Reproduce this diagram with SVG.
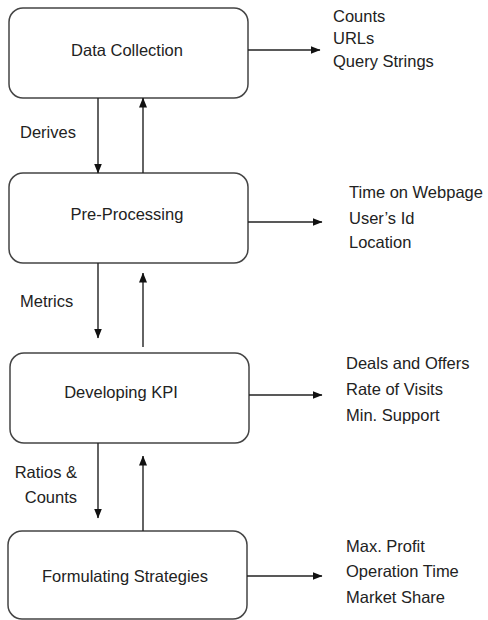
<svg xmlns="http://www.w3.org/2000/svg" width="488" height="620" viewBox="0 0 488 620">
<defs>
<marker id="ah" markerWidth="10" markerHeight="8" refX="9.5" refY="4" orient="auto" markerUnits="userSpaceOnUse">
<path d="M0,0 L10,4 L0,8 Z" fill="#111"/>
</marker>
<style>
.box{fill:#fff;stroke:#444;stroke-width:1.5}
.t{font-family:"Liberation Sans",Arial,sans-serif;font-size:16.5px;fill:#222}
.c{text-anchor:middle}
.e{text-anchor:end}
.ln{stroke:#222;stroke-width:1.4;fill:none;marker-end:url(#ah)}
</style>
</defs>
<rect width="488" height="620" fill="#fff"/>
<g id="data-collection">
<rect class="box" x="9" y="8" width="239" height="90" rx="14"/>
<text class="t c" x="127" y="56">Data Collection</text>
</g>
<g id="pre-processing">
<rect class="box" x="9" y="173" width="239" height="90" rx="14"/>
<text class="t c" x="127" y="220">Pre-Processing</text>
</g>
<g id="developing-kpi">
<rect class="box" x="10" y="353" width="239" height="90" rx="14"/>
<text class="t c" x="121" y="398">Developing KPI</text>
</g>
<g id="formulating-strategies">
<rect class="box" x="8" y="531" width="239" height="88" rx="14"/>
<text class="t c" x="125" y="582">Formulating Strategies</text>
</g>
<g id="outputs">
<text class="t" x="333" y="22">Counts</text>
<text class="t" x="333" y="44">URLs</text>
<text class="t" x="333" y="67">Query Strings</text>
<text class="t" x="349" y="198">Time on Webpage</text>
<text class="t" x="349" y="224">User’s Id</text>
<text class="t" x="349" y="248">Location</text>
<text class="t" x="346" y="369">Deals and Offers</text>
<text class="t" x="346" y="395">Rate of Visits</text>
<text class="t" x="346" y="421">Min. Support</text>
<text class="t" x="346" y="552">Max. Profit</text>
<text class="t" x="346" y="577">Operation Time</text>
<text class="t" x="346" y="603">Market Share</text>
</g>
<g id="connectors">
<line class="ln" x1="248" y1="50" x2="320" y2="50"/>
<line class="ln" x1="248" y1="222" x2="322" y2="222"/>
<line class="ln" x1="249" y1="395" x2="322" y2="395"/>
<line class="ln" x1="247" y1="576" x2="322" y2="576"/>
<line class="ln" x1="98" y1="98" x2="98" y2="173"/>
<line class="ln" x1="143" y1="173" x2="143" y2="98"/>
<line class="ln" x1="98" y1="263" x2="98" y2="338"/>
<line class="ln" x1="143" y1="347" x2="143" y2="273"/>
<line class="ln" x1="98" y1="443" x2="98" y2="518"/>
<line class="ln" x1="143" y1="531" x2="143" y2="456"/>
<text class="t" x="20" y="138">Derives</text>
<text class="t" x="20" y="307">Metrics</text>
<text class="t e" x="77" y="478">Ratios &amp;</text>
<text class="t e" x="77" y="503">Counts</text>
</g>
</svg>
